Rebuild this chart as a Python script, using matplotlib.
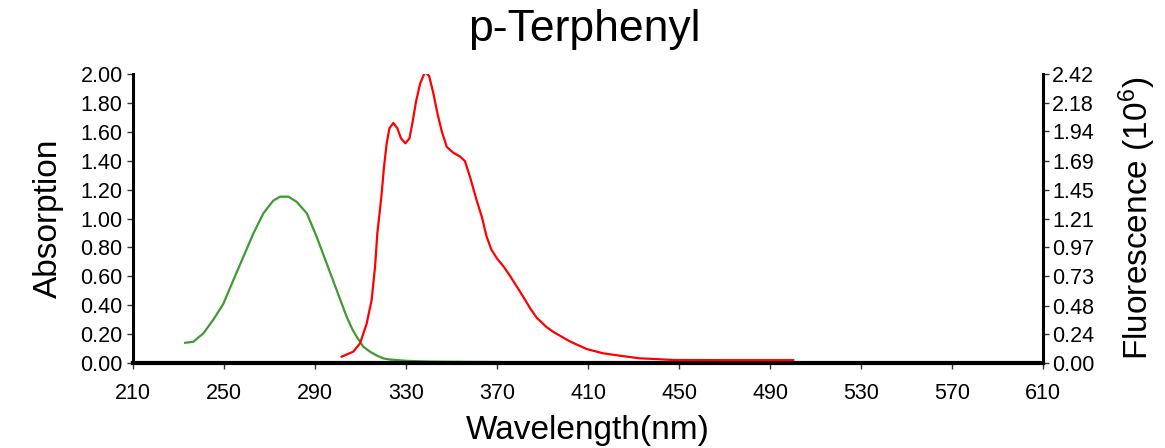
import matplotlib
matplotlib.use("Agg")
import matplotlib.pyplot as plt

plt.rcParams["font.family"] = ["Liberation Sans", "DejaVu Sans"]
plt.rcParams["mathtext.default"] = "regular"

# absorption spectrum (left axis)
abs_nm = [232.9, 236.5, 240.9, 245.3, 249.7, 254.1, 258.5, 262.9, 267.3, 271.6, 274.6,
          278.3, 281.9, 286.4, 290.7, 295.1, 299.5, 303.9, 306.5, 308.3, 311.2, 314.2,
          317.1, 320.0, 323.0, 330.3, 340, 355, 371]
abs_val = [0.14, 0.147, 0.205, 0.30, 0.41, 0.574, 0.735, 0.897, 1.036, 1.123, 1.151,
           1.151, 1.116, 1.036, 0.874, 0.69, 0.505, 0.32, 0.23, 0.182, 0.113, 0.078,
           0.052, 0.032, 0.024, 0.015, 0.01, 0.008, 0.007]

# fluorescence spectrum (right axis, x10^6)
fl_nm = [301.7, 306.8, 309.8, 312.7, 314.9, 316.4, 317.4, 318.2, 319.3, 320.3, 321.5,
         322.7, 324.4, 326.2, 327.8, 329.7, 331.5, 332.9, 334.4, 336.2, 338.4, 340.2,
         342.0, 343.8, 345.7, 347.9, 350.8, 353.7, 355.9, 358.1, 361.0, 363.3, 365.4,
         367.5, 369.8, 372.8, 375.7, 378.7, 381.5, 384.5, 387.4, 391.8, 394.8, 402.1,
         409.4, 416.7, 424.1, 432.9, 440, 447.5, 470, 500.2]
fl_val = [0.053, 0.095, 0.165, 0.33, 0.53, 0.81, 1.09, 1.225, 1.42, 1.64, 1.84,
          1.965, 2.01, 1.965, 1.88, 1.84, 1.88, 2.02, 2.19, 2.34, 2.44, 2.40,
          2.26, 2.09, 1.94, 1.81, 1.76, 1.73, 1.69, 1.56, 1.365, 1.225, 1.06,
          0.95, 0.88, 0.81, 0.73, 0.64, 0.555, 0.46, 0.38, 0.30, 0.26, 0.18,
          0.117, 0.081, 0.061, 0.039, 0.033, 0.025, 0.024, 0.024]

x_ticks = [210, 250, 290, 330, 370, 410, 450, 490, 530, 570, 610]
left_ticks = [0.00, 0.20, 0.40, 0.60, 0.80, 1.00, 1.20, 1.40, 1.60, 1.80, 2.00]
right_ticks = [0.00, 0.24, 0.48, 0.73, 0.97, 1.21, 1.45, 1.69, 1.94, 2.18, 2.42]

fig = plt.figure(figsize=(11.65, 4.48), dpi=100)
ax = fig.add_axes([0.1142, 0.1897, 0.7811, 0.6451])
ax2 = ax.twinx()

ax.plot(abs_nm, abs_val, color="#3c9c32", lw=1.6, zorder=3,
        solid_joinstyle="round")
ax2.plot(fl_nm, fl_val, color="#ff0000", lw=1.6, zorder=3,
         solid_joinstyle="round")

ax.set_xlim(210, 610)
ax.set_ylim(0, 2.0)
ax2.set_ylim(0, 2.42)

ax.set_xticks(x_ticks)
ax.set_yticks(left_ticks)
ax.set_yticklabels([f"{v:.2f}" for v in left_ticks])
ax2.set_yticks(right_ticks)
ax2.set_yticklabels([f"{v:.2f}" for v in right_ticks])

for a in (ax, ax2):
    a.spines["top"].set_visible(False)
    a.patch.set_visible(False)
ax.spines["right"].set_visible(False)
ax.spines["left"].set_linewidth(2.2)
ax.spines["bottom"].set_linewidth(3.0)
ax.spines["bottom"].set_zorder(4)
ax2.spines["left"].set_visible(False)
ax2.spines["bottom"].set_visible(False)
ax2.spines["right"].set_linewidth(2.2)

ax.tick_params(axis="both", direction="out", length=4.5, width=1.0, labelsize=15.5,
               pad=3, color="#333333")
ax.tick_params(axis="x", pad=10)
ax2.tick_params(axis="y", direction="out", length=4.5, width=1.0, labelsize=15.5,
                pad=2, color="#333333")

ax.set_xlabel("Wavelength(nm)", fontsize=24, labelpad=8)
ax.set_ylabel("Absorption", fontsize=24, labelpad=12)
ax2.set_ylabel("Fluorescence (10$^{6}$)", fontsize=24, labelpad=16)

fig.text(0.502, 0.935, "p-Terphenyl", fontsize=32, ha="center", va="center")

fig.savefig("out.png", dpi=100, facecolor="white")
